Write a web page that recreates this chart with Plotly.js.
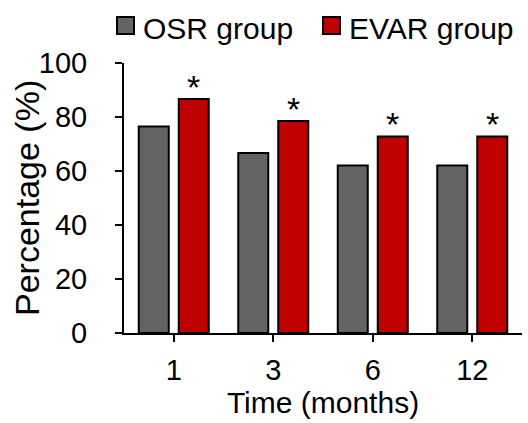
<!DOCTYPE html>
<html>
<head>
<meta charset="utf-8">
<script src="https://cdn.plot.ly/plotly-3.0.1.min.js"></script>
<style>html,body{margin:0;padding:0;background:#fff;}#chart{width:528px;height:423px;}</style>
</head>
<body>
<div id="chart"></div>
<script>
const categories = ["1", "3", "6", "12"];
const seriesNames = ["OSR group", "EVAR group"];
const seriesColors = ["#646464", "#C00000"];
const osrValues = [76.5, 66.7, 62.0, 62.0];
const evarValues = [86.7, 78.5, 72.8, 72.8];
const significance = ["*", "*", "*", "*"];
const yTicks = [0, 20, 40, 60, 80, 100];
const xTitle = "Time (months)";
const yTitle = "Percentage (%)";

const font = "Liberation Sans, Arial, sans-serif";

const traces = [osrValues, evarValues].map((vals, k) => ({
  type: "bar", name: seriesNames[k], x: categories, y: vals,
  marker: {color: seriesColors[k], line: {color: "#000", width: 2}}
}));

const annotations = categories.map((c, i) => ({
  x: i, y: evarValues[i], xref: "x", yref: "y", text: significance[i],
  showarrow: false, xshift: 20, yshift: -9, yanchor: "bottom",
  font: {family: font, size: 34, color: "#000"}
}));

// plot area: 124..522 px wide, 63..333 px tall
const pw = 398, ph = 270, L = 124, B = 333;
const px = v => (v - L) / pw, py = v => (B - v) / ph;

// custom legend
const legendX = [117, 323];
const shapes = [];
seriesNames.forEach((n, k) => {
  shapes.push({type: "rect", xref: "paper", yref: "paper",
    x0: px(legendX[k]), x1: px(legendX[k] + 17), y0: py(34), y1: py(17),
    fillcolor: seriesColors[k], line: {color: "#000", width: 2}});
  annotations.push({xref: "paper", yref: "paper", x: px(legendX[k] + 24), y: py(28),
    xanchor: "left", yanchor: "middle", showarrow: false, text: n,
    font: {family: font, size: 30, color: "#000"}});
});
// y-axis title
annotations.push({xref: "paper", yref: "paper", x: px(27), y: 0.5, textangle: -90,
  xanchor: "center", yanchor: "middle", showarrow: false, text: yTitle,
  font: {family: font, size: 34, color: "#000"}});
// end tick at right of x-axis
shapes.push({type: "line", xref: "paper", yref: "y", ysizemode: "pixel", yanchor: 0,
  x0: 1, x1: 1, y0: 0, y1: -7, line: {color: "#000", width: 2}});

const layout = {
  width: 528, height: 423,
  margin: {l: 124, r: 6, t: 63, b: 90, pad: 0},
  paper_bgcolor: "#fff", plot_bgcolor: "#fff",
  font: {family: font, color: "#000"},
  barmode: "group", bargap: 0.196, bargroupgap: 0.25,
  showlegend: false,
  xaxis: {type: "category", range: [-0.5, 3.5], tickmode: "array", tickvals: categories,
          showline: true, linecolor: "#000", linewidth: 2,
          ticks: "outside", ticklen: 7, tickwidth: 2, tickcolor: "#000",
          tickfont: {family: font, size: 29}, showgrid: false, zeroline: false,
          ticklabelstandoff: 3,
          title: {text: xTitle, font: {family: font, size: 30}, standoff: 4}},
  yaxis: {range: [0, 100], tickvals: yTicks, showline: true, linecolor: "#000", linewidth: 2,
          ticks: "outside", ticklen: 7, tickwidth: 2, tickcolor: "#000",
          tickfont: {family: font, size: 29}, showgrid: false, zeroline: false,
          ticklabelstandoff: 22},
  annotations: annotations,
  shapes: shapes
};

Plotly.newPlot("chart", traces, layout, {displayModeBar: false, staticPlot: true});
</script>
</body>
</html>
